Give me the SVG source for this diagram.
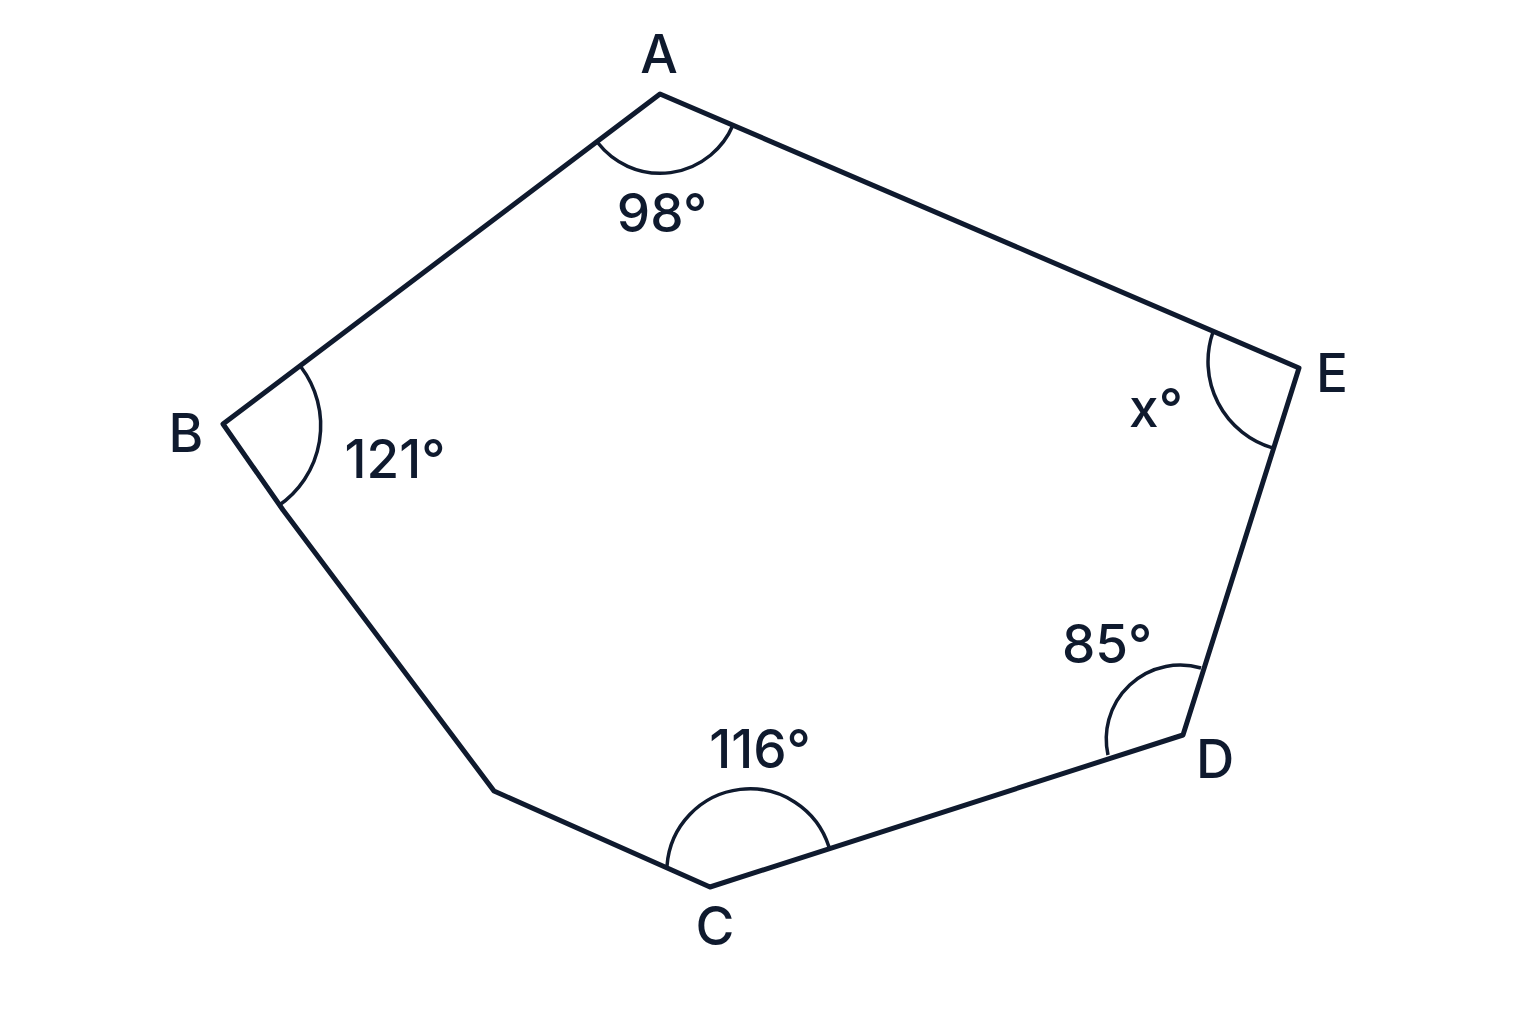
<svg xmlns="http://www.w3.org/2000/svg" width="1536" height="1024" viewBox="0 0 1536 1024">
<style>
.edge{fill:none;stroke:#0f1a2e;stroke-width:5;stroke-linejoin:round;stroke-linecap:round}
.arc{fill:none;stroke:#0f1a2e;stroke-width:3.5}
.lbl{font-family:Inter,"Noto Sans","Liberation Sans",sans-serif;font-size:53px;font-weight:500;fill:#0f1a2e;text-anchor:middle}
</style>
<rect width="1536" height="1024" fill="#ffffff"/>
<g id="connectors">
<path class="edge" d="M660,94 L1299,368 L1183,735 L710,887 L494,791 L283,510 L223,424 Z"/>
</g>
<g id="angle-A">
<path class="arc" d="M598,143 A79,79 0 0 0 733,125"/>
<text class="lbl" x="662" y="232">98°</text>
</g>
<g id="angle-B">
<path class="arc" d="M301,367 A97,97 0 0 1 278,506"/>
<text class="lbl" x="395" y="478">121°</text>
</g>
<g id="angle-E">
<path class="arc" d="M1213,332 A90,90 0 0 0 1273,448"/>
<text class="lbl" x="1156" y="427">x°</text>
</g>
<g id="angle-D">
<path class="arc" d="M1201,668 A74,74 0 0 0 1108,755"/>
<text class="lbl" x="1107" y="663">85°</text>
</g>
<g id="angle-C">
<path class="arc" d="M667,866 A83,83 0 0 1 829,847"/>
<text class="lbl" x="760" y="768">116°</text>
</g>
<g id="vertex-labels">
<text class="lbl" x="659" y="73">A</text>
<text class="lbl" x="186" y="452">B</text>
<text class="lbl" x="715" y="945">C</text>
<text class="lbl" x="1215" y="778">D</text>
<text class="lbl" x="1332" y="392">E</text>
</g>
</svg>
